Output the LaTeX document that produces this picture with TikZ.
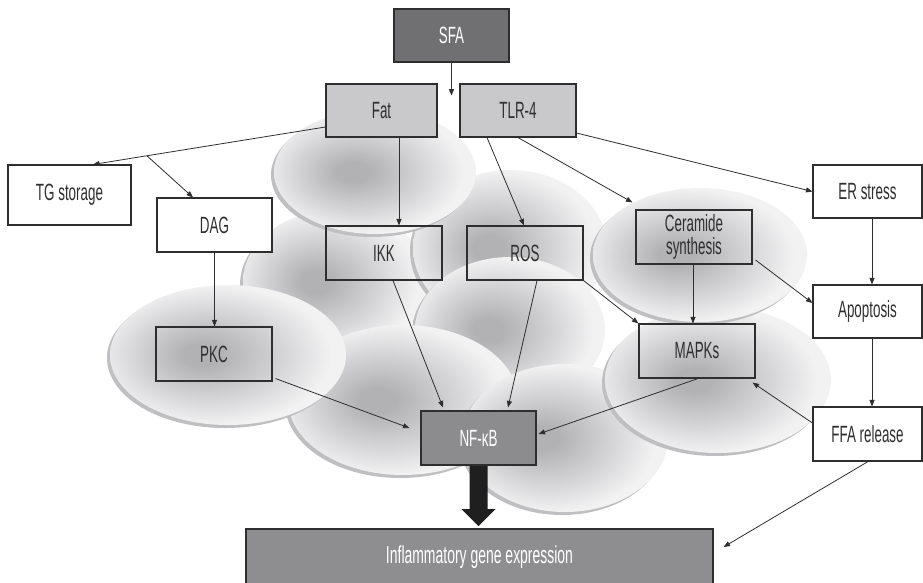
\documentclass[tikz,border=0pt]{standalone}
\usepackage{fontspec}
\setmainfont{Liberation Sans}[FakeStretch=0.57]
\usetikzlibrary{arrows.meta,calc}

\definecolor{cellA}{HTML}{B2B2B5}
\definecolor{cellB}{HTML}{D6D6D8}
\definecolor{cellC}{HTML}{F2F2F3}
\definecolor{cellrim}{HTML}{BFBFC1}
\definecolor{inkline}{HTML}{2E2E2E}
\definecolor{inktext}{HTML}{2F2F2F}
\definecolor{lightbox}{HTML}{C9C9CB}
\definecolor{sfafill}{HTML}{707072}
\definecolor{nffill}{HTML}{8C8C8E}
\definecolor{genefill}{HTML}{8E8E91}

% soft grey cell body, darker towards the left of its middle
\pgfdeclareradialshading{cellshade}{\pgfpoint{-6bp}{0bp}}{%
  color(0bp)=(cellA); color(4bp)=(cellA); color(16bp)=(cellB);
  color(25bp)=(cellC); color(50bp)=(cellC)}

% one cell: rim shadow down-left, shaded body on top
\newcommand\cellblob[4]{%
  \fill[cellrim] (#1-3,#2-3) ellipse [x radius=#3, y radius=#4];
  \shade[shading=cellshade] (#1,#2) ellipse [x radius=#3, y radius=#4];
}

\tikzset{
  basebox/.style={draw=inkline, line width=1.1pt, inner sep=0pt, align=center,
    font=\fontsize{23.5}{23}\selectfont, text=inktext},
  whitebox/.style={basebox, fill=white},
  clearbox/.style={basebox},
  greybox/.style={basebox, fill=lightbox},
  darkbox/.style={basebox, text=white},
  arr/.style={draw=inkline, line width=0.8pt, -{Triangle[length=6.5pt,width=5pt]}},
}

\begin{document}
\begin{tikzpicture}[x=1pt,y=1pt]
\useasboundingbox (0,0) rectangle (923,-582);

% background cells
\cellblob{336}{-282}{93}{72}
\cellblob{510}{-248}{97}{78}
\cellblob{510}{-330}{95}{73}
\cellblob{403}{-400}{115}{75}
\cellblob{228}{-355}{118}{70}
\cellblob{565}{-438}{103}{74}
\cellblob{718}{-380}{113}{73}
\cellblob{700}{-255}{107}{67}
\cellblob{375}{-172}{101}{62}

% boxes
\node[darkbox, fill=sfafill, minimum width=115, minimum height=53] (sfa) at (451.5,-35.5) {SFA};
\node[greybox, minimum width=111, minimum height=53] (fat) at (381.5,-110.5) {Fat};
\node[greybox, minimum width=116, minimum height=53] (tlr) at (518,-110.5) {TLR-4};
\node[whitebox, minimum width=123, minimum height=60] (tg) at (69.5,-195) {TG storage};
\node[whitebox, minimum width=115, minimum height=54] (dag) at (214.5,-225) {DAG};
\node[clearbox, minimum width=116, minimum height=54] (pkc) at (214,-354) {PKC};
\node[clearbox, minimum width=116, minimum height=54] (ikk) at (384,-253) {IKK};
\node[clearbox, minimum width=116, minimum height=54] (ros) at (525,-253) {ROS};
\node[clearbox, minimum width=116, minimum height=54] (cer) at (694,-237) {Ceramide\\synthesis};
\node[clearbox, minimum width=116, minimum height=54] (mapk) at (697,-351) {MAPKs};
\node[whitebox, minimum width=109, minimum height=53] (er) at (867.5,-191.5) {ER stress};
\node[whitebox, minimum width=109, minimum height=53] (apop) at (867.5,-311.5) {Apoptosis};
\node[whitebox, minimum width=109, minimum height=54] (ffa) at (867.5,-434) {FFA release};
\node[darkbox, fill=genefill, minimum width=467, minimum height=57,
  font=\fontsize{24.5}{24}\selectfont] (gene) at (479.5,-557.5) {Inflammatory gene expression};

% thick arrow from NF-kB down to gene expression
\fill[black!88] ([xshift=-9]478.5,-465) -- ++(0,-44) -- ++(-8,0) -- ++(17,-17) -- ++(17,17) -- ++(-8,0) -- ++(0,44) -- cycle;
\node[darkbox, fill=nffill, minimum width=115, minimum height=54] (nf) at (478.5,-438) {NF-κB};

% SFA input arrow
\coordinate (sfatip) at ([yshift=-33]sfa.south);
\draw[arr, line width=1.2pt] (sfa.south) -- (sfatip);

% fat branches
\coordinate (fatout) at ([yshift=-16.5]fat.west);
\coordinate (tgin) at ([xshift=23.5]tg.north);
\coordinate (split) at ($(fatout)!0.768!(tgin)$);
\draw[arr] (fatout) -- (tgin);
\draw[arr] (split) -- ([xshift=-21.5]dag.north);
\draw[arr] ([xshift=17.5]fat.south) -- ([xshift=15]ikk.north);
\draw[arr] (dag.south) -- (dag.south |- pkc.north);

% TLR-4 branches
\draw[arr] ([xshift=-31]tlr.south) -- ([xshift=-1]ros.north);
\draw[arr] (tlr.south) -- ([xshift=-3,yshift=7]cer.north west);
\draw[arr] ([yshift=-22.5]tlr.east) -- (er.west);

% right-hand chain
\draw[arr] ([xshift=4.5]er.south) -- ([xshift=4.5]apop.north);
\draw[arr] ([xshift=4.5]apop.south) -- ([xshift=4.5]ffa.north);
\draw[arr] ([xshift=3,yshift=-23]cer.east) -- ([yshift=8.5]apop.west);
\draw[arr] ([xshift=-1]cer.south) -- ([xshift=-1]cer.south |- mapk.north);
\draw[arr] (ros.south east) -- (mapk.north west);
\draw[arr] ([yshift=11]ffa.west) -- ([xshift=-3,yshift=-4]mapk.south east);
\draw[arr] ([xshift=0.5]ffa.south) -- ([xshift=10,yshift=10.5]gene.east);

% inputs to NF-kB
\draw[arr] ([xshift=1]mapk.south) -- ([xshift=2,yshift=4]nf.east);
\draw[arr] ([xshift=9]ikk.south) -- ([xshift=-35.5,yshift=3]nf.north);
\draw[arr] ([xshift=12]ros.south) -- ([xshift=29.5,yshift=3]nf.north);
\draw[arr] ([xshift=3,yshift=3]pkc.south east) -- ([xshift=-11,yshift=10]nf.west);
\end{tikzpicture}
\end{document}
